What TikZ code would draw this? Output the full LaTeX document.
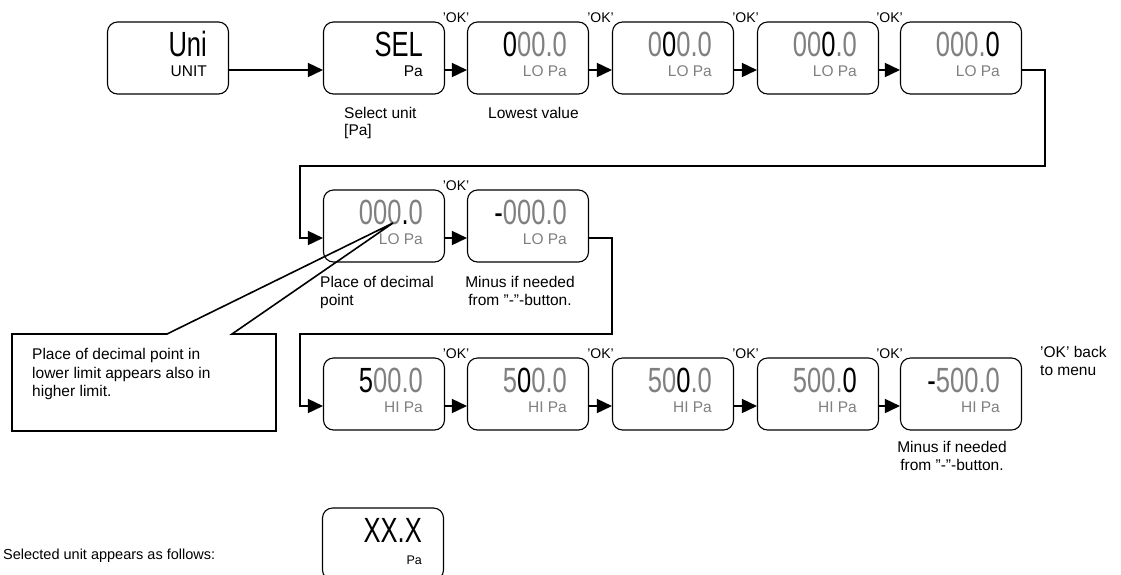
\documentclass[tikz,border=0pt]{standalone}
\usepackage{fontspec}
\setmainfont{Liberation Sans}
\newfontfamily\narrowfont[FakeStretch=0.73]{Liberation Sans}
\usetikzlibrary{arrows.meta,calc}
\definecolor{dig}{RGB}{128,128,128}
\tikzset{
  disp/.style={draw=black, line width=1.1pt, rounded corners=10pt, minimum width=121pt, minimum height=72pt, inner sep=0pt},
  big/.style={font=\narrowfont\fontsize{35}{35}\selectfont, inner sep=0pt, anchor=base east},
  small/.style={font=\fontsize{15.5}{15.5}\selectfont, inner sep=0pt, anchor=base east},
  lbl/.style={font=\fontsize{15.5}{18}\selectfont, inner sep=0pt, anchor=base west},
  lblc/.style={font=\fontsize{15.5}{18}\selectfont, inner sep=0pt, anchor=base},
  oklbl/.style={font=\fontsize{14}{14}\selectfont, inner sep=0pt, anchor=base},
  conn/.style={line width=1.6pt, -{Triangle[length=15pt,width=14pt]}},
  callout/.style={line width=1.6pt, line join=miter},
}
\newcommand{\gr}[1]{\textcolor{dig}{#1}}
\begin{document}
\begin{tikzpicture}[x=1pt,y=-1pt]
\useasboundingbox (0,0) rectangle (1121,574);
\clip (0,0) rectangle (1121,574);
% ---------- row 1
\node[disp] (uni) at (168,58) {};
\node[disp] (sel) at (384,58) {};
\node[disp] (b3) at (528,58) {};
\node[disp] (b4) at (673,58) {};
\node[disp] (b5) at (818,58) {};
\node[disp] (b6) at (961,58) {};
\node[big] (unit1) at ($(uni.north east)+(-22,35)$) {Uni};
\node[small] (unit2) at ($(uni.north east)+(-22,55)$) {UNIT};
\node[big] (selt1) at ($(sel.north east)+(-22,35)$) {SEL};
\node[small] (selt2) at ($(sel.north east)+(-22,55)$) {Pa};
\node[big] (b3t1) at ($(b3.north east)+(-22,35)$) {0\gr{00.0}};
\node[small] (b3t2) at ($(b3.north east)+(-22,55)$) {\gr{LO Pa}};
\node[big] (b4t1) at ($(b4.north east)+(-22,35)$) {\gr{0}0\gr{0.0}};
\node[small] (b4t2) at ($(b4.north east)+(-22,55)$) {\gr{LO Pa}};
\node[big] (b5t1) at ($(b5.north east)+(-22,35)$) {\gr{00}0\gr{.0}};
\node[small] (b5t2) at ($(b5.north east)+(-22,55)$) {\gr{LO Pa}};
\node[big] (b6t1) at ($(b6.north east)+(-22,35)$) {\gr{000.}0};
\node[small] (b6t2) at ($(b6.north east)+(-22,55)$) {\gr{LO Pa}};
\draw[conn] ([yshift=-12pt]uni.east) -- ([yshift=-12pt]sel.west);
\draw[conn] ([yshift=-12pt]sel.east) -- ([yshift=-12pt]b3.west);
\draw[conn] ([yshift=-12pt]b3.east) -- ([yshift=-12pt]b4.west);
\draw[conn] ([yshift=-12pt]b4.east) -- ([yshift=-12pt]b5.west);
\draw[conn] ([yshift=-12pt]b5.east) -- ([yshift=-12pt]b6.west);
\node[oklbl] (ok1) at (456,22) {’OK’};
\node[oklbl] (ok2) at (600.5,22) {’OK’};
\node[oklbl] (ok3) at (745.5,22) {’OK’};
\node[oklbl] (ok4) at (889.5,22) {’OK’};
\node[lbl] (sel1) at (344,118) {Select unit};
\node[lbl] (sel2) at (344,135) {[Pa]};
\node[lbl] (low) at (488,118) {Lowest value};
% ---------- row 2
\node[disp] (b7) at (384,226) {};
\node[disp] (b8) at (528,226) {};
\node[big] (b7t1) at ($(b7.north east)+(-22,35)$) {\gr{000}.\gr{0}};
\node[small] (b7t2) at ($(b7.north east)+(-22,55)$) {\gr{LO Pa}};
\node[big] (b8t1) at ($(b8.north east)+(-22,35)$) {-\gr{000.0}};
\node[small] (b8t2) at ($(b8.north east)+(-22,55)$) {\gr{LO Pa}};
\coordinate (l1a) at (1045,166);
\coordinate (l1b) at (300,166);
\draw[conn] ([yshift=-12pt]b6.east) -| (l1a) -- (l1b) |- ([yshift=-12pt]b7.west);
\draw[conn] ([yshift=-12pt]b7.east) -- ([yshift=-12pt]b8.west);
\node[oklbl] (ok5) at (456,190) {’OK’};
\node[lbl] (pd1) at (320,287) {Place of decimal};
\node[lbl] (pd2) at (320,305) {point};
\node[lblc] (mi1) at (520,287) {Minus if needed};
\node[lblc] (mi2) at (520,305) {from ”-”-button.};
% ---------- row 3
\node[disp] (b9) at (384,394) {};
\node[disp] (b10) at (528,394) {};
\node[disp] (b11) at (673,394) {};
\node[disp] (b12) at (818,394) {};
\node[disp] (b13) at (961,394) {};
\node[big] (b9t1) at ($(b9.north east)+(-22,35)$) {5\gr{00.0}};
\node[small] (b9t2) at ($(b9.north east)+(-22,55)$) {\gr{HI Pa}};
\node[big] (b10t1) at ($(b10.north east)+(-22,35)$) {\gr{5}0\gr{0.0}};
\node[small] (b10t2) at ($(b10.north east)+(-22,55)$) {\gr{HI Pa}};
\node[big] (b11t1) at ($(b11.north east)+(-22,35)$) {\gr{50}0\gr{.0}};
\node[small] (b11t2) at ($(b11.north east)+(-22,55)$) {\gr{HI Pa}};
\node[big] (b12t1) at ($(b12.north east)+(-22,35)$) {\gr{500.}0};
\node[small] (b12t2) at ($(b12.north east)+(-22,55)$) {\gr{HI Pa}};
\node[big] (b13t1) at ($(b13.north east)+(-22,35)$) {-\gr{500.0}};
\node[small] (b13t2) at ($(b13.north east)+(-22,55)$) {\gr{HI Pa}};
\coordinate (l2a) at (612,334);
\coordinate (l2b) at (300,334);
\draw[conn] ([yshift=-12pt]b8.east) -| (l2a) -- (l2b) |- ([yshift=-12pt]b9.west);
\draw[conn] ([yshift=-12pt]b9.east) -- ([yshift=-12pt]b10.west);
\draw[conn] ([yshift=-12pt]b10.east) -- ([yshift=-12pt]b11.west);
\draw[conn] ([yshift=-12pt]b11.east) -- ([yshift=-12pt]b12.west);
\draw[conn] ([yshift=-12pt]b12.east) -- ([yshift=-12pt]b13.west);
\node[oklbl] (ok6) at (456,358) {’OK’};
\node[oklbl] (ok7) at (600.5,358) {’OK’};
\node[oklbl] (ok8) at (745.5,358) {’OK’};
\node[oklbl] (ok9) at (889.5,358) {’OK’};
\node[lbl] (bk1) at (1040,357) {’OK’ back};
\node[lbl] (bk2) at (1040,375) {to menu};
\node[lblc] (mj1) at (952,452) {Minus if needed};
\node[lblc] (mj2) at (952,470) {from ”-”-button.};
% ---------- callout
\coordinate (tip) at (393,223);
\draw[callout] (12,334) -- (167,334) -- (tip) -- (232,334) -- (276,334) -- (276,431) -- (12,431) -- cycle;
\node[lbl] (co1) at (32,359) {Place of decimal point in};
\node[lbl] (co2) at (32,378) {lower limit appears also in};
\node[lbl] (co3) at (32,396) {higher limit.};
% ---------- bottom
\node[lbl, font=\fontsize{14.5}{17}\selectfont] (selap) at (3,559) {Selected unit appears as follows:};
\node[disp] (xx) at (383,544) {};
\node[big] (xxt1) at ($(xx.north east)+(-22,35)$) {XX.X};
\node[small, font=\fontsize{12.5}{12.5}\selectfont] (xxt2) at ($(xx.north east)+(-22,57)$) {Pa};
\end{tikzpicture}
\end{document}
